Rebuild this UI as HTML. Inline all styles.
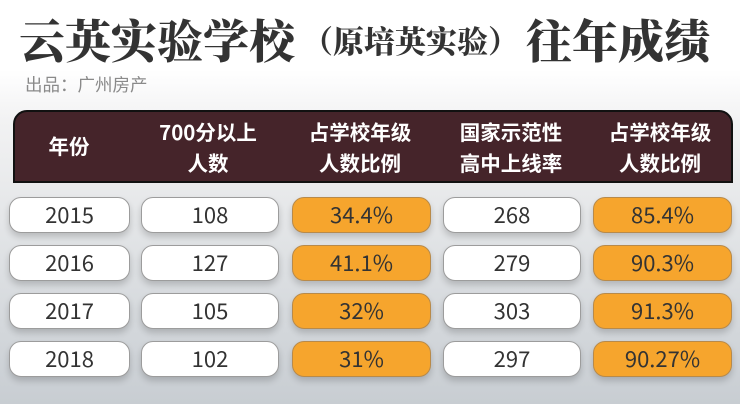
<!DOCTYPE html>
<html><head><meta charset="utf-8"><style>
*{margin:0;padding:0;box-sizing:border-box}
body{width:740px;height:404px;overflow:hidden;position:relative;
background:linear-gradient(180deg,#ffffff 0px,#ffffff 70px,#f2f2f3 120px,#e4e6e8 220px,#d3d7db 330px,#c8cdd2 404px);
font-family:"Liberation Sans","Noto Sans CJK SC",sans-serif;}
.t{position:absolute;white-space:nowrap;color:#333;font-family:"Noto Serif CJK SC",serif;font-weight:900;}
.sub{position:absolute;left:25px;top:72px;font-size:17.5px;line-height:26px;color:#8a8a8a;font-family:"Noto Sans CJK SC",sans-serif;}
.hdr{position:absolute;left:13px;top:110px;width:720px;height:73px;background:#45242a;border:2px solid #111;border-radius:14px 14px 0 0;}
.h{position:absolute;color:#fff;font-family:"Noto Sans CJK SC",sans-serif;font-weight:bold;font-size:20.5px;line-height:31px;text-align:center;transform:translateX(-50%);white-space:nowrap}
.p{position:absolute;height:36px;border:1px solid #9c9c9c;border-radius:12px;background:#fff;box-shadow:0 4px 7px rgba(0,0,0,0.18);
font-family:"Noto Sans CJK SC",sans-serif;font-size:22px;color:#333;text-align:center;line-height:33px}
.o{background:#f6a52d;border-color:#b88a4a}
</style></head><body>
<div class="t" style="left:19px;top:8px;font-size:46px;line-height:62px;">云英实验学校</div>
<div class="t" style="left:302px;top:15px;font-size:31px;line-height:50px;">（原培英实验）</div>
<div class="t" style="left:526px;top:8px;font-size:46px;line-height:62px;">往年成绩</div>
<div class="sub">出品：广州房产</div>
<div class="hdr"></div>
<div class="h" style="left:69px;top:130px">年份</div>
<div class="h" style="left:208px;top:116px">700分以上<br>人数</div>
<div class="h" style="left:360px;top:116px">占学校年级<br>人数比例</div>
<div class="h" style="left:511px;top:116px">国家示范性<br>高中上线率</div>
<div class="h" style="left:660px;top:116px">占学校年级<br>人数比例</div>

<div class="p" style="left:9px;top:197px;width:121px">2015</div>
<div class="p" style="left:141px;top:197px;width:138px">108</div>
<div class="p o" style="left:292px;top:197px;width:139px">34.4%</div>
<div class="p" style="left:443px;top:197px;width:138px">268</div>
<div class="p o" style="left:593px;top:197px;width:139px">85.4%</div>

<div class="p" style="left:9px;top:245px;width:121px">2016</div>
<div class="p" style="left:141px;top:245px;width:138px">127</div>
<div class="p o" style="left:292px;top:245px;width:139px">41.1%</div>
<div class="p" style="left:443px;top:245px;width:138px">279</div>
<div class="p o" style="left:593px;top:245px;width:139px">90.3%</div>

<div class="p" style="left:9px;top:293px;width:121px">2017</div>
<div class="p" style="left:141px;top:293px;width:138px">105</div>
<div class="p o" style="left:292px;top:293px;width:139px">32%</div>
<div class="p" style="left:443px;top:293px;width:138px">303</div>
<div class="p o" style="left:593px;top:293px;width:139px">91.3%</div>

<div class="p" style="left:9px;top:341px;width:121px">2018</div>
<div class="p" style="left:141px;top:341px;width:138px">102</div>
<div class="p o" style="left:292px;top:341px;width:139px">31%</div>
<div class="p" style="left:443px;top:341px;width:138px">297</div>
<div class="p o" style="left:593px;top:341px;width:139px">90.27%</div>
</body></html>
